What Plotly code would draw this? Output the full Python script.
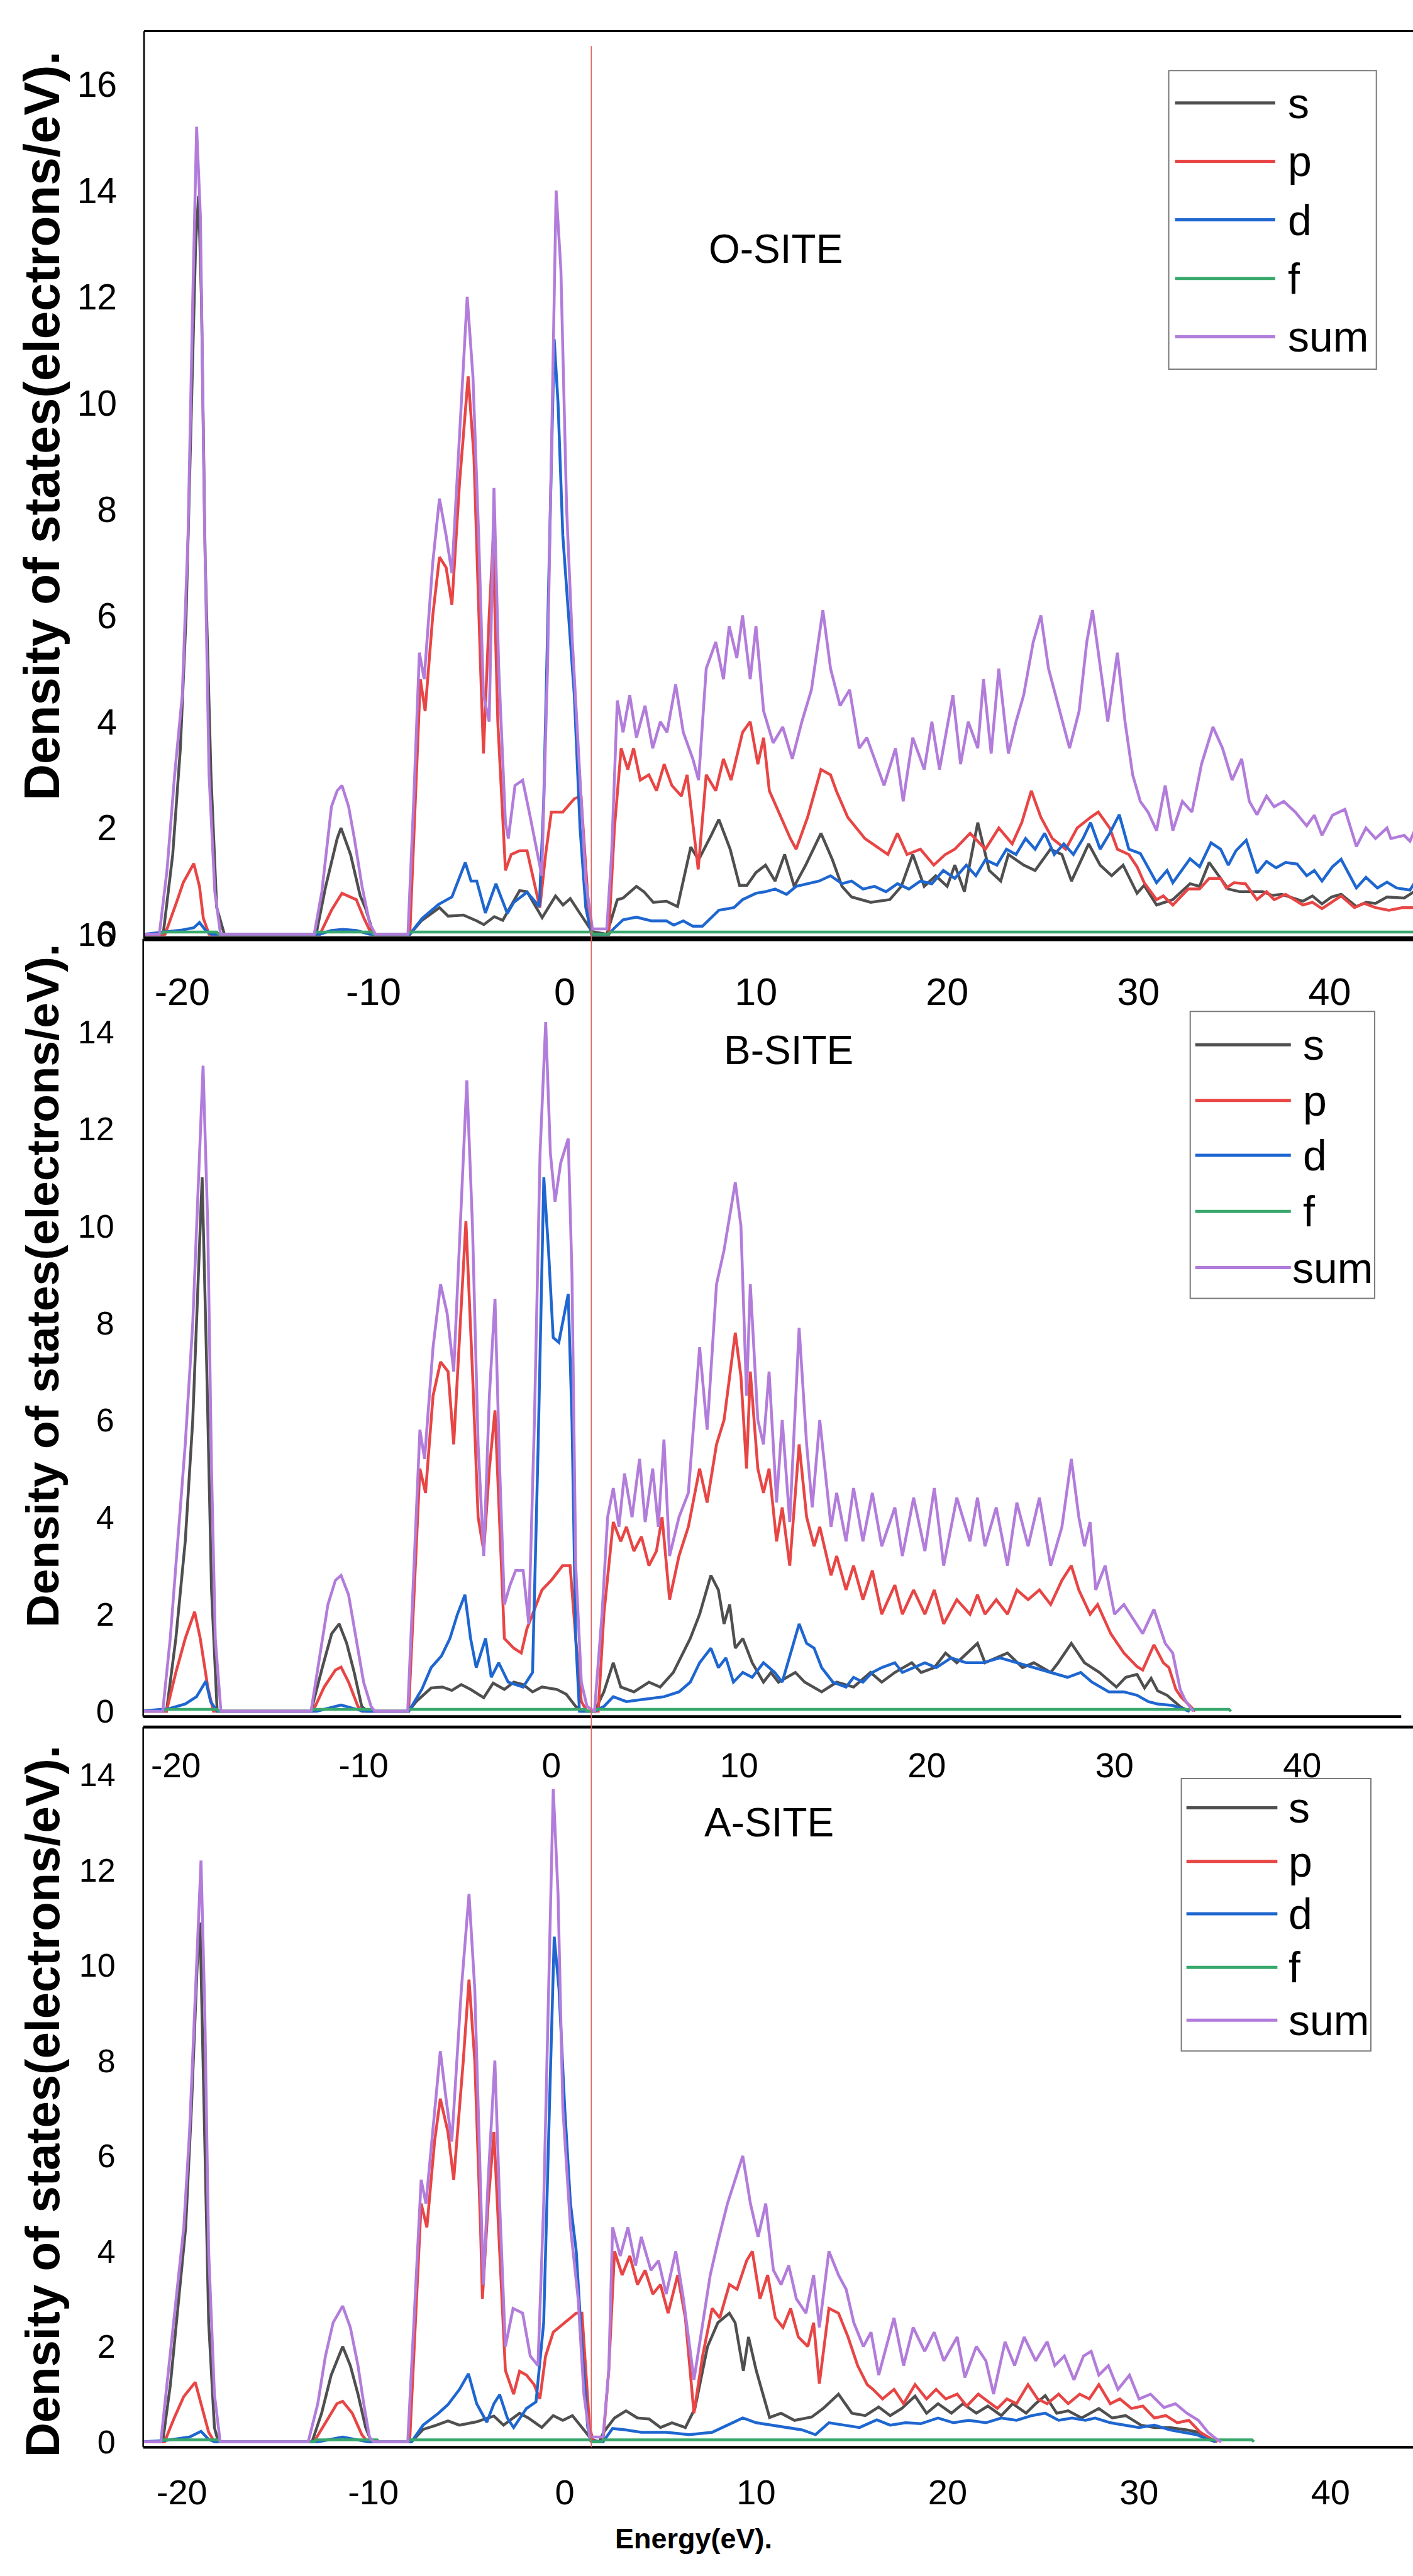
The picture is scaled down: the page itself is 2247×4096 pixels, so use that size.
import plotly.graph_objects as go

# ------------------------------------------------------------------
# Partial density of states for the O, B and A sites (s, p, d, f, sum)
# ------------------------------------------------------------------

# ---------------- O-SITE ----------------
o_s_e = [-22, -21.0, -20.5, -20.1, -19.8, -19.5, -19.3, -19.15, -19.0, -18.8, -18.5, -18.2, -17.8,
         -13.0, -12.5, -12.2, -11.9, -11.7, -11.2, -10.7, -10.4, -10.0,
         -8.1, -7.5, -6.55, -6.1, -5.3, -4.6, -4.23, -3.68, -3.24, -2.36, -1.97, -1.18, -0.48, -0.09, 0.29, 0.78, 1.43,
         2.2, 2.75, 3.05, 3.75, 4.14, 4.63, 5.32, 5.9, 6.59, 7.0, 7.67, 8.06, 8.65, 9.14, 9.53, 10.0, 10.5, 11.0,
         11.5, 12.0, 12.6, 13.4, 14.0, 14.5, 15.0, 16.0, 17.0, 17.6, 18.2, 18.8, 19.4, 20.0, 20.4, 20.9, 21.6,
         22.2, 22.8, 23.2, 24.0, 24.6, 25.4, 26.0, 26.5, 27.4, 28.0, 28.6, 29.2, 29.93, 30.3, 30.95, 31.8, 32.7,
         33.2, 33.7, 34.2, 34.7, 35.3, 36.5, 37.0, 37.5, 38.6, 39.1, 39.6, 40.1, 40.6, 41.4, 41.9, 42.4, 43.0,
         43.9, 44.5]
o_s_v = [0, 0, 1.5, 3.5, 6.0, 10.0, 13.0, 13.9, 12.0, 7.0, 3.0, 0.5, 0,
         0, 0.9, 1.35, 1.8, 2.0, 1.5, 0.73, 0.47, 0,
         0, 0.25, 0.5, 0.34, 0.36, 0.25, 0.18, 0.33, 0.26, 0.82, 0.8, 0.31, 0.72, 0.55, 0.67, 0.4, 0.05,
         0, 0.65, 0.68, 0.9, 0.8, 0.6, 0.62, 0.52, 1.64, 1.4, 1.87, 2.16, 1.6, 0.92, 0.92, 1.16, 1.3, 1.0,
         1.5, 0.9, 1.3, 1.9, 1.4, 0.9, 0.7, 0.6, 0.65, 0.9, 1.5, 0.9, 1.1, 0.9, 1.3, 0.8, 2.1,
         1.2, 1.0, 1.5, 1.3, 1.2, 1.6, 1.5, 1.0, 1.7, 1.3, 1.1, 1.3, 0.77, 0.92, 0.55, 0.65, 0.95,
         0.9, 1.35, 1.1, 0.85, 0.8, 0.8, 0.73, 0.75, 0.62, 0.72, 0.57, 0.7, 0.75, 0.52, 0.6, 0.58, 0.7,
         0.68, 0.82]

o_p_e = [-22, -20.9, -20.3, -19.95, -19.4, -19.1, -18.9, -18.6,
         -12.8, -12.2, -11.65, -10.9, -10.5, -10.1,
         -8.1, -7.8, -7.55, -7.3, -6.9, -6.55, -6.2, -5.9, -5.5, -5.05, -4.75, -4.4, -4.25, -3.95, -3.75, -3.5,
         -3.1, -2.8, -2.36, -1.97, -1.6, -1.3, -1.0, -0.7, -0.1, 0.5, 0.85, 1.05, 1.3, 1.45,
         2.3, 2.6, 2.95, 3.3, 3.6, 3.95, 4.4, 4.8, 5.2, 5.6, 6.1, 6.4, 6.98, 7.4, 7.9, 8.3, 8.7, 9.3, 9.7, 10.1,
         10.4, 10.7, 11.2, 11.8, 12.1, 12.7, 13.4, 13.9, 14.2, 14.8, 15.7, 16.9, 17.4, 17.9, 18.6, 19.3, 19.9,
         20.4, 21.2, 22.0, 22.7, 23.4, 23.9, 24.4, 24.9, 25.5, 26.2, 26.8, 27.5, 27.9, 28.5, 28.9, 29.5, 29.93,
         30.3, 30.95, 31.3, 31.8, 32.6, 33.2, 33.7, 34.3, 34.6, 35.0, 35.6, 36.2, 36.7, 37.1, 37.7, 38.6, 39.1,
         39.6, 40.6, 41.3, 41.8, 42.4, 43.1, 43.8, 44.5]
o_p_v = [0, 0, 0.6, 0.97, 1.33, 0.9, 0.3, 0,
         0, 0.45, 0.77, 0.65, 0.3, 0,
         0, 2.5, 4.8, 4.2, 6.0, 7.1, 6.9, 6.2, 8.5, 10.5, 9.0, 5.0, 3.4, 6.0, 7.4, 4.0,
         1.2, 1.5, 1.57, 1.57, 1.0, 0.5, 1.5, 2.3, 2.3, 2.55, 2.6, 1.5, 0.2, 0,
         0, 2.0, 3.5, 3.1, 3.5, 2.9, 3.0, 2.7, 3.2, 2.8, 2.6, 3.0, 1.22, 3.0, 2.7, 3.3, 2.9, 3.8, 4.0, 3.2,
         3.7, 2.7, 2.3, 1.8, 1.6, 2.2, 3.1, 3.0, 2.7, 2.2, 1.8, 1.5, 1.9, 1.5, 1.6, 1.3, 1.5,
         1.6, 1.9, 1.6, 2.0, 1.7, 2.1, 2.7, 2.2, 1.8, 1.6, 2.0, 2.2, 2.3, 2.0, 1.6, 1.5, 1.27,
         0.97, 0.65, 0.72, 0.55, 0.85, 0.85, 1.05, 1.05, 0.87, 0.97, 0.95, 0.65, 0.8, 0.65, 0.75, 0.55, 0.6,
         0.48, 0.72, 0.5, 0.58, 0.5, 0.45, 0.5, 0.5]

o_d_e = [-22, -20.8, -20.0, -19.4, -19.1, -18.8, -18.5,
         -12.8, -12.2, -11.6, -10.9, -10.2,
         -8.1, -7.45, -6.6, -5.9, -5.2, -4.9, -4.6, -4.15, -3.6, -3.0, -2.66, -1.97, -1.33, -1.1, -0.8, -0.55,
         -0.35, -0.1, 0.2, 0.5, 0.8, 1.1, 1.4,
         2.3, 2.55, 3.05, 3.75, 4.53, 5.32, 5.7, 6.2, 6.7, 7.2, 8.06, 8.85, 9.3, 10.0, 10.5, 11.0, 11.6, 12.1,
         12.7, 13.3, 13.9, 14.5, 15.0, 15.6, 16.2, 16.8, 17.4, 18.0, 18.6, 19.2, 19.8, 20.4, 21.0, 21.5, 22.0,
         22.6, 23.1, 23.6, 24.1, 24.6, 25.1, 25.6, 26.1, 26.6, 27.1, 27.5, 28.0, 28.5, 29.0, 29.5, 30.1, 30.95,
         31.5, 31.8, 32.7, 33.2, 33.8, 34.3, 34.7, 35.1, 35.64, 36.2, 36.7, 37.2, 37.7, 38.3, 38.8, 39.2, 39.6,
         40.15, 40.6, 41.4, 41.9, 42.5, 43.0, 43.5, 44.2, 44.5]
o_d_v = [0, 0.04, 0.08, 0.12, 0.22, 0.08, 0,
         0, 0.07, 0.09, 0.07, 0,
         0, 0.3, 0.56, 0.7, 1.35, 1.0, 1.0, 0.4, 0.95, 0.39, 0.6, 0.79, 0.52, 2.5, 7.5, 11.2,
         10.0, 7.5, 6.0, 4.5, 2.0, 0.5, 0,
         0, 0.1, 0.27, 0.32, 0.25, 0.25, 0.17, 0.25, 0.15, 0.15, 0.45, 0.5, 0.65, 0.77, 0.8, 0.85, 0.75, 0.9,
         0.95, 1.0, 1.1, 0.95, 1.0, 0.85, 0.9, 0.8, 0.95, 0.85, 1.0, 0.95, 1.2, 1.05, 1.3, 1.1, 1.4,
         1.3, 1.6, 1.5, 1.8, 1.6, 1.9, 1.5, 1.7, 1.5, 1.8, 2.1, 1.6, 1.9, 2.25, 1.6, 1.52, 0.97,
         1.2, 0.97, 1.42, 1.27, 1.72, 1.6, 1.3, 1.57, 1.77, 1.15, 1.37, 1.25, 1.35, 1.32, 1.1, 1.2, 1.0,
         1.27, 1.41, 0.87, 1.07, 0.87, 0.98, 0.87, 0.83, 1.0]

o_f_e = [-21.1, -21.0, -18.2, -18.1, -13.1, -13.0, -10.1, -10.0, -8.2, -8.1, 1.4, 1.5, 2.3, 2.4, 44.5]
o_f_v = [0, 0.04, 0.04, 0, 0, 0.04, 0.04, 0, 0, 0.04, 0.04, 0, 0, 0.04, 0.04]

o_sum_e = [-22, -21.2, -20.8, -20.4, -20.0, -19.7, -19.45, -19.25, -19.05, -18.85, -18.6, -18.3, -18.0,
           -13.1, -12.7, -12.4, -12.2, -11.9, -11.65, -11.3, -11.0, -10.6, -10.2, -9.9,
           -8.2, -7.9, -7.6, -7.35, -6.9, -6.55, -6.2, -5.9, -5.5, -5.1, -4.8, -4.5, -4.25, -3.95, -3.7, -3.45,
           -3.1, -2.95, -2.6, -2.2, -1.8, -1.2, -0.9, -0.6, -0.45, -0.2, 0.1, 0.4, 0.8, 1.1, 1.45, 2.2,
           2.45, 2.75, 3.05, 3.4, 3.75, 4.2, 4.6, 5.0, 5.35, 5.8, 6.2, 6.7, 7.0, 7.4, 7.9, 8.3, 8.6, 9.0, 9.3,
           9.7, 10.0, 10.4, 10.9, 11.4, 11.9, 12.4, 12.9, 13.5, 13.9, 14.4, 14.9, 15.4, 15.8, 16.3, 16.7, 17.3,
           17.7, 18.2, 18.8, 19.2, 19.6, 20.3, 20.7, 21.1, 21.6, 21.9, 22.3, 22.7, 23.2, 23.6, 24.0, 24.5, 24.9,
           25.3, 25.9, 26.4, 26.9, 27.3, 27.6, 28.0, 28.4, 28.9, 29.3, 29.7, 30.1, 30.5, 30.95, 31.4, 31.8, 32.3,
           32.8, 33.3, 33.9, 34.4, 34.9, 35.4, 35.8, 36.2, 36.7, 37.1, 37.6, 38.2, 38.8, 39.2, 39.6, 40.15, 40.8,
           41.4, 41.9, 42.4, 43.0, 43.2, 43.9, 44.2, 44.5]
o_sum_v = [0, 0, 1.2, 3.0, 4.5, 7.5, 12.0, 15.2, 13.5, 8.0, 3.0, 0.8, 0,
           0, 0.8, 1.7, 2.4, 2.7, 2.8, 2.4, 1.8, 0.9, 0.2, 0,
           0, 2.5, 5.3, 4.8, 7.0, 8.2, 7.5, 6.8, 9.5, 12.0, 10.5, 7.5, 4.5, 4.0, 8.4, 5.0,
           2.1, 1.8, 2.8, 2.9, 2.2, 1.1, 5.0, 11.0, 14.0, 12.5, 8.0, 5.5, 3.0, 1.0, 0.1, 0.1,
           1.5, 4.4, 3.8, 4.5, 3.7, 4.3, 3.5, 4.0, 3.8, 4.7, 3.8, 3.3, 2.9, 5.0, 5.5, 4.8, 5.8, 5.2, 6.0,
           4.8, 5.8, 4.2, 3.6, 3.9, 3.3, 4.0, 4.6, 6.1, 5.0, 4.3, 4.6, 3.5, 3.7, 3.2, 2.8, 3.5,
           2.5, 3.7, 3.1, 4.0, 3.1, 4.5, 3.2, 4.0, 3.5, 4.8, 3.4, 5.0, 3.4, 4.0, 4.5, 5.5, 6.0,
           5.0, 4.2, 3.5, 4.2, 5.5, 6.1, 5.0, 4.0, 5.3, 4.0, 3.0, 2.5, 2.3, 1.95, 2.8, 1.95, 2.5,
           2.3, 3.2, 3.9, 3.5, 2.9, 3.3, 2.5, 2.25, 2.6, 2.4, 2.5, 2.3, 2.04, 2.24, 1.86, 2.24, 2.35,
           1.65, 2.0, 1.8, 2.0, 1.8, 1.86, 1.75, 2.0]

# ---------------- B-SITE ----------------
b_s_e = [-22, -20.5, -20.0, -19.5, -19.1, -18.8, -18.6, -18.35, -18.1, -17.8,
         -12.8, -12.2, -11.7, -11.3, -10.9, -10.5, -10.1, -9.8,
         -7.6, -7.2, -6.4, -5.8, -5.3, -4.8, -4.3, -3.6, -3.1, -2.5, -2.0, -1.5, -1.0, -0.5, 0.3, 0.8, 1.3, 1.6,
         2.3, 2.8, 3.3, 3.7, 4.4, 5.2, 5.8, 6.5, 7.4, 7.9, 8.5, 8.9, 9.2, 9.5, 9.8, 10.2, 10.7, 11.3, 11.7,
         12.1, 13.0, 13.5, 14.4, 15.2, 16.1, 17.0, 17.6, 18.3, 19.2, 19.7, 20.4, 21.0, 21.6, 22.7, 23.1, 24.3,
         25.1, 25.7, 26.6, 27.0, 27.7, 28.4, 29.2, 30.1, 30.6, 31.2, 31.6, 31.95, 32.3, 32.8, 33.2, 33.55, 34.0]
b_s_v = [0, 0, 1.5, 3.5, 6.0, 9.0, 11.0, 7.0, 2.5, 0,
         0, 0.9, 1.6, 1.8, 1.4, 0.8, 0.1, 0,
         0, 0.2, 0.48, 0.5, 0.43, 0.55, 0.45, 0.28, 0.58, 0.45, 0.6, 0.55, 0.4, 0.5, 0.45, 0.35, 0.1, 0,
         0, 0.4, 1.0, 0.5, 0.4, 0.6, 0.5, 0.8, 1.5, 2.0, 2.8, 2.5, 1.8, 2.2, 1.3, 1.5, 1.0, 0.6, 0.8,
         0.6, 0.8, 0.6, 0.4, 0.6, 0.5, 0.8, 0.6, 0.8, 1.0, 0.8, 0.9, 1.2, 1.0, 1.4, 1.0, 1.2,
         0.9, 1.0, 0.8, 1.0, 1.4, 1.0, 0.8, 0.5, 0.7, 0.76, 0.48, 0.68, 0.42, 0.33, 0.2, 0.08, 0]

b_p_e = [-22, -20.5, -20.0, -19.5, -19.0, -18.7, -18.3, -18.0,
         -12.7, -12.1, -11.5, -11.2, -10.8, -10.3, -10.1,
         -7.6, -7.3, -7.0, -6.7, -6.3, -5.9, -5.5, -5.2, -4.8, -4.55, -4.2, -3.9, -3.6, -3.3, -3.0, -2.7, -2.5,
         -2.0, -1.6, -1.3, -1.0, -0.5, 0.0, 0.6, 1.0, 1.3, 1.6, 1.9,
         2.5, 2.8, 3.3, 3.7, 4.0, 4.4, 4.8, 5.2, 5.6, 5.9, 6.3, 6.8, 7.3, 7.9, 8.3, 8.8, 9.2, 9.8, 10.1, 10.4,
         10.6, 11.0, 11.3, 11.6, 12.0, 12.3, 12.7, 13.2, 13.6, 14.0, 14.3, 14.9, 15.2, 15.7, 16.1, 16.6, 17.1,
         17.6, 18.3, 18.7, 19.3, 19.9, 20.4, 20.9, 21.6, 22.3, 22.7, 23.1, 23.7, 24.3, 24.8, 25.4, 26.0, 26.6,
         27.2, 27.7, 28.1, 28.7, 29.1, 29.8, 30.5, 31.2, 31.5, 32.1, 32.6, 32.9, 33.27, 33.55, 34.0, 34.3]
b_p_v = [0, 0, 0.8, 1.5, 2.05, 1.5, 0.5, 0,
         0, 0.5, 0.85, 0.91, 0.6, 0.1, 0,
         0, 2.5, 5.0, 4.5, 6.5, 7.2, 7.0, 5.5, 8.5, 10.1, 7.0, 4.0, 3.3, 5.0, 6.2, 3.5, 1.5,
         1.3, 1.2, 1.7, 2.0, 2.5, 2.7, 3.0, 3.0, 1.5, 0.2, 0,
         0, 2.0, 3.9, 3.5, 3.8, 3.3, 3.6, 3.0, 3.3, 4.0, 2.3, 3.2, 3.8, 5.0, 4.3, 5.5, 6.0, 7.8, 6.9, 5.0,
         7.0, 5.0, 4.5, 5.0, 3.5, 4.2, 3.0, 5.5, 4.0, 3.4, 3.8, 2.8, 3.2, 2.5, 3.0, 2.3, 2.9,
         2.0, 2.6, 2.0, 2.5, 2.0, 2.5, 1.8, 2.3, 2.0, 2.4, 2.0, 2.3, 2.0, 2.5, 2.3, 2.5, 2.2,
         2.7, 3.0, 2.5, 2.0, 2.2, 1.6, 1.2, 0.92, 0.85, 1.37, 1.0, 0.9, 0.45, 0.29, 0.12, 0]

b_d_e = [-22, -20.4, -19.5, -18.9, -18.4, -18.15, -17.8,
         -12.5, -11.2, -10.0,
         -7.6, -6.9, -6.4, -5.85, -5.4, -5.0, -4.6, -4.3, -4.0, -3.5, -3.2, -2.8, -2.3, -1.5, -1.0, -0.7, -0.4,
         -0.15, 0.1, 0.4, 0.9, 1.1, 1.3, 1.5,
         2.3, 2.8, 3.3, 4.0, 5.0, 6.0, 6.8, 7.4, 7.9, 8.5, 8.9, 9.3, 9.7, 10.2, 10.7, 11.3, 11.9, 12.3, 12.9,
         13.2, 13.6, 14.0, 14.4, 15.0, 15.7, 16.1, 16.6, 17.1, 17.6, 18.3, 18.7, 19.3, 19.9, 20.5, 21.3, 22.1,
         23.0, 23.9, 24.8, 25.7, 26.6, 27.5, 28.2, 28.8, 29.7, 30.5, 31.2, 31.8, 32.3, 33.1, 33.6, 34.0]
b_d_v = [0, 0.05, 0.15, 0.3, 0.62, 0.2, 0,
         0, 0.13, 0,
         0, 0.45, 0.9, 1.14, 1.5, 2.0, 2.4, 1.5, 0.9, 1.5, 0.7, 1.0, 0.6, 0.5, 0.8, 5.5, 11.0,
         9.5, 7.7, 7.6, 8.6, 6.0, 1.5, 0,
         0, 0.1, 0.3, 0.2, 0.25, 0.3, 0.4, 0.6, 1.0, 1.3, 0.9, 1.1, 0.6, 0.8, 0.7, 1.0, 0.8, 0.6, 1.4,
         1.8, 1.4, 1.3, 0.9, 0.6, 0.5, 0.7, 0.6, 0.8, 0.9, 1.0, 0.8, 0.9, 1.0, 0.9, 1.1, 1.0,
         1.0, 1.1, 1.0, 0.9, 0.8, 0.7, 0.8, 0.6, 0.4, 0.4, 0.33, 0.2, 0.15, 0.12, 0.05, 0]

b_f_e = [-20.6, -20.5, -17.8, -17.7, -12.8, -12.7, -9.5, -9.4, -7.7, -7.6, 1.8, 1.9, 2.3, 2.4, 36.1, 36.2]
b_f_v = [0, 0.04, 0.04, 0, 0, 0.04, 0.04, 0, 0, 0.04, 0.04, 0, 0, 0.04, 0.04, 0]

b_sum_e = [-22, -20.7, -20.3, -19.9, -19.5, -19.1, -18.8, -18.55, -18.3, -18.1, -17.9, -17.6,
           -12.8, -12.3, -11.9, -11.5, -11.2, -10.8, -10.4, -10.0, -9.6, -9.4,
           -7.65, -7.3, -7.0, -6.75, -6.3, -5.9, -5.55, -5.2, -4.8, -4.5, -4.2, -3.9, -3.6, -3.3, -3.0, -2.75,
           -2.5, -2.2, -1.9, -1.5, -1.2, -0.9, -0.6, -0.3, -0.05, 0.2, 0.5, 0.9, 1.1, 1.3, 1.6, 1.9, 2.3,
           2.7, 3.0, 3.3, 3.6, 3.9, 4.3, 4.7, 5.0, 5.4, 5.7, 6.0, 6.3, 6.8, 7.3, 7.9, 8.3, 8.8, 9.2, 9.8, 10.1,
           10.4, 10.6, 11.0, 11.3, 11.6, 12.0, 12.3, 12.7, 13.2, 13.6, 13.9, 14.3, 14.9, 15.2, 15.7, 16.1, 16.6,
           17.1, 17.6, 18.3, 18.7, 19.3, 19.9, 20.4, 20.9, 21.6, 22.3, 22.7, 23.1, 23.7, 24.3, 24.8, 25.4, 26.0,
           26.6, 27.2, 27.7, 28.1, 28.4, 28.7, 29.0, 29.5, 30.0, 30.5, 31.0, 31.5, 32.1, 32.7, 33.1, 33.5, 33.8,
           34.2]
b_sum_v = [0, 0, 1.5, 3.5, 5.5, 8.0, 11.0, 13.3, 10.0, 5.0, 1.5, 0,
           0, 1.2, 2.2, 2.7, 2.8, 2.4, 1.5, 0.6, 0.1, 0,
           0, 3.0, 5.8, 5.2, 7.5, 8.8, 8.2, 7.0, 10.5, 13.0, 10.0, 5.5, 3.2, 6.5, 8.5, 5.0,
           2.2, 2.6, 2.9, 2.9, 1.8, 6.0, 11.5, 14.2, 11.5, 10.5, 11.3, 11.8, 9.0, 3.0, 0.6, 0.1, 0,
           2.0, 4.0, 4.6, 3.8, 4.9, 4.0, 5.2, 3.9, 5.0, 3.8, 5.6, 3.2, 4.0, 4.5, 7.5, 5.8, 8.8, 9.5, 10.9, 10.0,
           6.5, 8.8, 6.0, 5.5, 7.0, 4.3, 6.0, 3.9, 7.9, 5.5, 4.2, 6.0, 3.8, 4.5, 3.5, 4.6, 3.5,
           4.5, 3.4, 4.2, 3.2, 4.4, 3.3, 4.6, 3.0, 4.4, 3.5, 4.4, 3.4, 4.2, 3.0, 4.3, 3.4, 4.4,
           3.0, 3.8, 5.2, 4.0, 3.4, 3.9, 2.5, 3.0, 2.0, 2.2, 1.9, 1.6, 2.1, 1.4, 1.2, 0.45, 0.2,
           0]

# ---------------- A-SITE ----------------
a_s_e = [-22, -21.0, -20.6, -20.2, -19.8, -19.5, -19.2, -19.05, -18.85, -18.6, -18.3, -18.1,
         -13.2, -12.7, -12.2, -11.6, -11.2, -10.8, -10.4, -10.1,
         -8.0, -7.4, -6.7, -6.1, -5.5, -4.6, -3.7, -3.2, -2.36, -1.9, -1.2, -0.6, -0.1, 0.4, 0.9, 1.4,
         1.8, 2.03, 2.6, 3.2, 3.8, 4.4, 5.0, 5.6, 6.3, 6.8, 7.46, 8.0, 8.6, 8.9, 9.33, 9.6, 10.0, 10.7, 11.3,
         12.0, 12.9, 13.5, 14.3, 15.0, 15.7, 16.4, 17.0, 17.6, 18.3, 18.9, 19.5, 20.2, 20.8, 21.5, 22.1, 22.8,
         23.4, 24.1, 24.6, 25.1, 25.7, 26.3, 27.0, 27.9, 28.6, 29.3, 30.1, 30.8, 31.6, 32.5, 33.1, 33.6, 34.0]
a_s_v = [0, 0, 1.2, 2.8, 4.5, 7.0, 10.0, 10.9, 7.0, 2.5, 0.3, 0,
         0, 0.6, 1.4, 2.0, 1.6, 1.0, 0.3, 0,
         0, 0.26, 0.35, 0.44, 0.35, 0.42, 0.54, 0.35, 0.6, 0.5, 0.3, 0.55, 0.45, 0.55, 0.3, 0.05,
         0, 0.2, 0.5, 0.65, 0.5, 0.48, 0.3, 0.4, 0.3, 0.7, 2.0, 2.5, 2.7, 2.5, 1.49, 2.2, 1.5, 0.51, 0.6,
         0.45, 0.52, 0.7, 1.0, 0.6, 0.55, 0.73, 0.55, 0.7, 0.96, 0.6, 0.8, 0.6, 0.8, 0.6, 0.75, 0.55,
         0.8, 0.6, 0.8, 0.97, 0.6, 0.65, 0.5, 0.7, 0.5, 0.55, 0.35, 0.3, 0.3, 0.25, 0.2, 0.1, 0]

a_p_e = [-22, -20.9, -20.4, -19.9, -19.3, -19.0, -18.6, -18.3,
         -13.1, -12.5, -11.9, -11.6, -11.1, -10.6, -10.3,
         -8.1, -7.8, -7.5, -7.2, -6.8, -6.5, -6.1, -5.8, -5.3, -5.0, -4.7, -4.4, -4.3, -4.0, -3.7, -3.4, -3.1,
         -2.67, -2.36, -2.0, -1.6, -1.3, -1.0, -0.6, 0.0, 0.6, 0.9, 1.1, 1.3, 1.5,
         2.0, 2.3, 2.6, 3.0, 3.4, 3.8, 4.2, 4.6, 5.0, 5.4, 5.9, 6.3, 6.75, 7.2, 7.7, 8.1, 8.6, 9.0, 9.5, 9.8,
         10.2, 10.6, 11.0, 11.4, 11.8, 12.2, 12.7, 13.0, 13.3, 13.8, 14.3, 14.8, 15.3, 15.8, 16.1, 16.6, 17.2,
         17.7, 18.3, 18.9, 19.4, 19.9, 20.5, 21.0, 21.6, 22.1, 22.6, 23.1, 23.6, 24.2, 24.7, 25.2, 25.8, 26.3,
         26.9, 27.4, 27.9, 28.5, 29.0, 29.6, 30.2, 30.8, 31.4, 32.0, 32.6, 33.2, 33.8, 34.1]
a_p_v = [0, 0, 0.5, 0.95, 1.25, 0.8, 0.2, 0,
         0, 0.4, 0.8, 0.85, 0.6, 0.15, 0,
         0, 2.5, 5.0, 4.5, 6.3, 7.2, 6.5, 5.5, 8.0, 9.7, 8.0, 4.5, 3.0, 5.0, 6.5, 4.0, 1.5,
         1.0, 1.48, 1.4, 1.2, 0.9, 1.8, 2.3, 2.5, 2.7, 2.7, 1.5, 0.3, 0,
         0, 1.5, 4.0, 3.5, 3.9, 3.3, 3.6, 3.1, 3.3, 2.7, 3.5, 2.6, 0.6, 1.8, 2.8, 2.6, 3.3, 3.2, 3.8, 4.0,
         3.0, 3.5, 2.6, 2.4, 2.8, 2.2, 2.0, 2.5, 1.22, 2.8, 2.7, 2.2, 1.6, 1.2, 1.1, 0.9, 1.1,
         0.8, 1.2, 0.9, 1.1, 0.9, 1.0, 0.75, 1.0, 0.85, 0.7, 0.9, 0.8, 1.2, 0.9, 0.8, 1.0, 0.8,
         1.0, 0.9, 1.2, 0.8, 0.9, 0.7, 0.75, 0.5, 0.55, 0.4, 0.45, 0.2, 0.05, 0]

a_d_e = [-22, -20.8, -19.6, -19.0, -18.6, -18.3,
         -12.9, -11.6, -10.3,
         -8.0, -7.4, -6.6, -6.1, -5.5, -5.03, -4.6, -4.07, -3.7, -3.4, -3.0, -2.67, -2.0, -1.5, -1.1, -0.8,
         -0.55, -0.3, 0.0, 0.3, 0.6, 0.9, 1.2, 1.4,
         2.0, 2.5, 3.2, 4.0, 5.3, 6.5, 7.7, 8.5, 9.3, 10.0, 10.8, 11.6, 12.4, 13.1, 13.8, 14.6, 15.4, 16.3,
         17.0, 17.8, 18.6, 19.5, 20.3, 21.1, 22.0, 22.8, 23.6, 24.4, 25.1, 25.8, 26.5, 27.2, 27.7, 28.5, 29.3,
         30.0, 30.8, 31.6, 32.3, 33.0, 33.6, 34.0]
a_d_v = [0, 0.03, 0.1, 0.22, 0.05, 0,
         0, 0.1, 0,
         0, 0.35, 0.6, 0.78, 1.1, 1.43, 0.8, 0.41, 0.8, 0.99, 0.5, 0.3, 0.7, 0.84, 2.5, 7.0,
         10.6, 9.5, 7.0, 5.0, 4.0, 2.0, 0.3, 0,
         0, 0.28, 0.25, 0.2, 0.2, 0.15, 0.2, 0.35, 0.5, 0.4, 0.35, 0.3, 0.25, 0.15, 0.4, 0.35, 0.3, 0.46,
         0.35, 0.4, 0.38, 0.5, 0.4, 0.45, 0.4, 0.5, 0.45, 0.55, 0.6, 0.45, 0.5, 0.45, 0.5, 0.4, 0.35,
         0.3, 0.35, 0.25, 0.2, 0.15, 0.05, 0]

a_f_e = [-21.1, -21.0, -18.1, -18.0, -13.1, -13.0, -9.8, -9.7, -8.2, -8.1, 1.3, 1.4, 1.9, 2.0, 35.9, 36.0]
a_f_v = [0, 0.04, 0.04, 0, 0, 0.04, 0.04, 0, 0, 0.04, 0.04, 0, 0, 0.04, 0.04, 0]

a_sum_e = [-22, -21.1, -20.7, -20.3, -19.9, -19.6, -19.3, -19.0, -18.8, -18.6, -18.3, -18.0,
           -13.4, -12.9, -12.5, -12.1, -11.6, -11.2, -10.8, -10.5, -10.2, -10.0,
           -8.2, -7.8, -7.5, -7.25, -6.8, -6.5, -6.2, -5.9, -5.4, -5.0, -4.7, -4.45, -4.25, -4.0, -3.65, -3.4,
           -3.1, -2.7, -2.2, -1.8, -1.4, -1.1, -0.8, -0.6, -0.35, -0.1, 0.3, 0.7, 1.0, 1.3, 2.0,
           2.3, 2.5, 2.9, 3.3, 3.7, 4.0, 4.5, 4.9, 5.3, 5.8, 6.2, 6.75, 7.2, 7.6, 8.0, 8.5, 8.9, 9.3, 9.7, 10.1,
           10.5, 10.9, 11.3, 11.7, 12.1, 12.6, 13.0, 13.3, 13.8, 14.3, 14.7, 15.1, 15.6, 16.0, 16.4, 17.2, 17.7,
           18.2, 18.8, 19.3, 19.8, 20.5, 20.9, 21.5, 22.0, 22.4, 23.0, 23.5, 24.0, 24.6, 25.2, 25.6, 26.1, 26.6,
           27.1, 27.5, 27.9, 28.4, 28.9, 29.5, 30.0, 30.6, 31.3, 31.9, 32.5, 33.1, 33.6, 34.1, 34.3]
a_sum_v = [0, 0, 1.5, 3.0, 4.5, 6.5, 9.5, 12.2, 9.0, 4.0, 1.0, 0,
           0, 0.8, 1.8, 2.5, 2.85, 2.4, 1.6, 0.8, 0.1, 0,
           0, 3.0, 5.5, 5.0, 7.0, 8.2, 7.2, 6.3, 9.5, 11.5, 9.5, 6.0, 3.3, 5.5, 8.0, 5.0,
           2.0, 2.8, 2.7, 1.8, 1.6, 5.0, 10.0, 13.7, 11.5, 7.0, 4.5, 3.0, 1.0, 0.1, 0.1,
           1.5, 4.5, 3.9, 4.5, 3.7, 4.3, 3.6, 3.8, 3.1, 4.0, 3.0, 1.3, 2.5, 3.5, 4.2, 5.0, 5.5, 6.0, 5.0, 4.3,
           5.0, 3.6, 3.3, 3.7, 3.0, 2.7, 3.5, 2.4, 4.0, 3.5, 3.2, 2.5, 2.0, 2.3, 1.4, 2.6, 1.6,
           2.4, 1.9, 2.3, 1.7, 2.2, 1.35, 2.0, 1.7, 1.0, 2.1, 1.6, 2.2, 1.7, 2.1, 1.6, 1.8, 1.3,
           1.8, 1.9, 1.4, 1.6, 1.1, 1.4, 0.9, 1.0, 0.72, 0.8, 0.6, 0.45, 0.2, 0.04, 0]

x_ticks = [-20, -10, 0, 10, 20, 30, 40]
x_tick_text = ["-20", "-10", "0", "10", "20", "30", "40"]
orbitals = ["s", "p", "d", "f", "sum"]
panel_titles = ["O-SITE", "B-SITE", "A-SITE"]
y_title = "Density of states(electrons/eV)."
x_title = "Energy(eV)."

colors = {"s": "#4f4f4f", "p": "#e84545", "d": "#1e66d0", "f": "#38a86c", "sum": "#b27cdb"}

panels = [
    {"s": (o_s_e, o_s_v), "p": (o_p_e, o_p_v), "d": (o_d_e, o_d_v), "f": (o_f_e, o_f_v), "sum": (o_sum_e, o_sum_v)},
    {"s": (b_s_e, b_s_v), "p": (b_p_e, b_p_v), "d": (b_d_e, b_d_v), "f": (b_f_e, b_f_v), "sum": (b_sum_e, b_sum_v)},
    {"s": (a_s_e, a_s_v), "p": (a_p_e, a_p_v), "d": (a_d_e, a_d_v), "f": (a_f_e, a_f_v), "sum": (a_sum_e, a_sum_v)},
]

# ---------------- layout geometry on a 3355 x 6117 design grid ----------------
RW, RH = 3355.0, 6117.0
W, H = 2247, 4096


def fx(x):
    return x / RW


def fy(y):
    return 1 - y / RH


FONT = "Liberation Sans, Arial, sans-serif"

fig = go.Figure()

axis_names = [("x", "y"), ("x2", "y2"), ("x3", "y3")]
for (xa, ya), data in zip(axis_names, panels):
    for orb in orbitals:
        e, v = data[orb]
        fig.add_trace(go.Scatter(x=e, y=v, mode="lines", name=orb, xaxis=xa, yaxis=ya,
                                 line=dict(color=colors[orb], width=4.5), showlegend=False,
                                 hoverinfo="skip"))

# per panel: x domain, x range, y domain, y range, y ticks, tick-label sizes and standoffs
panel_geo = [
    dict(xdom=[fx(342), 1.0], xr=[-22.0, 44.36], ydom=[fy(2217), fy(34)], yr=[-0.086, 17.0],
         yt=list(range(0, 17, 2)), xsize=61, xstand=43, ysize=57, ystand=42),
    dict(xdom=[fx(340), 1.0], xr=[-21.74, 45.9], ydom=[fy(4088), fy(2205)], yr=[-0.111, 16.02],
         yt=list(range(0, 17, 2)), xsize=55, xstand=40, ysize=52, ystand=45),
    dict(xdom=[fx(340), 1.0], xr=[-22.02, 44.31], ydom=[fy(5845), fy(4113)], yr=[-0.113, 15.0],
         yt=list(range(0, 15, 2)), xsize=56, xstand=34, ysize=52, ystand=43),
]

layout_axes = {}
for i, g in enumerate(panel_geo):
    sfx = "" if i == 0 else str(i + 1)
    layout_axes["xaxis" + sfx] = dict(domain=g["xdom"], range=g["xr"], anchor="y" + sfx,
                                      tickvals=x_ticks, ticktext=x_tick_text, ticks="", showgrid=False,
                                      zeroline=False, showline=False,
                                      tickfont=dict(family=FONT, size=g["xsize"], color="black"),
                                      ticklabelstandoff=g["xstand"], fixedrange=True)
    layout_axes["yaxis" + sfx] = dict(domain=g["ydom"], range=g["yr"], anchor="x" + sfx,
                                      tickvals=g["yt"], ticks="", showgrid=False, zeroline=False,
                                      showline=False,
                                      tickfont=dict(family=FONT, size=g["ysize"], color="black"),
                                      ticklabelstandoff=g["ystand"], fixedrange=True)


def hline(x0, x1, y, width, color="black"):
    return dict(type="line", xref="paper", yref="paper", x0=fx(x0), x1=fx(x1), y0=fy(y), y1=fy(y),
                line=dict(color=color, width=width))


def vline(x, y0, y1, width, color="black"):
    return dict(type="line", xref="paper", yref="paper", x0=fx(x), x1=fx(x), y0=fy(y1), y1=fy(y0),
                line=dict(color=color, width=width))


shapes = [
    # frames
    hline(342, RW, 34, 3.2),
    vline(342, 34, 2217, 2.6),
    vline(340, 2217, 4088, 2.6),
    hline(340, RW, 4113, 4.6),
    vline(340, 4113, 5845, 2.6),
    # thick energy axes
    hline(342, RW, 2217, 7.7),
    hline(340, 3327, 4088, 4.8),
    hline(340, RW, 5845, 4.5),
]
# vertical marker line running through all three panels
marker = vline(1404, 70, 5845, 1.6, "#e06060")
marker["layer"] = "above"
shapes.append(marker)

annotations = []
# legend boxes: box x0, x1, y0, y1, sample x0, x1, label x per entry, entry rows
legend_geo = [
    (2775, 3268, 129, 847, 2790, 3028, [3055] * 5, [207, 347, 488, 629, 769]),
    (2826, 3264, 2392, 3082, 2838, 3065, [3091, 3091, 3091, 3091, 3066], [2472, 2606, 2738, 2873, 3008]),
    (2805, 3255, 4237, 4892, 2817, 3033, [3057] * 5, [4307, 4436, 4562, 4691, 4818]),
]
for bx0, bx1, by0, by1, lx0, lx1, txs, rows in legend_geo:
    shapes.append(dict(type="rect", xref="paper", yref="paper", x0=fx(bx0), x1=fx(bx1), y0=fy(by1), y1=fy(by0),
                       line=dict(color="#7a7a7a", width=2), fillcolor="white", layer="above"))
    for orb, tx, ry in zip(orbitals, txs, rows):
        sample = hline(lx0, lx1, ry, 5, colors[orb])
        sample["layer"] = "above"
        shapes.append(sample)
        annotations.append(dict(xref="paper", yref="paper", x=fx(tx), y=fy(ry), text=orb, showarrow=False,
                                xanchor="left", yanchor="middle",
                                font=dict(family=FONT, size=68, color="black")))

# site labels
for title, (cx, cy) in zip(panel_titles, [(1841, 558), (1873, 2485), (1826, 4342)]):
    annotations.append(dict(xref="paper", yref="paper", x=fx(cx), y=fy(cy), text=title, showarrow=False,
                            xanchor="center", yanchor="middle",
                            font=dict(family=FONT, size=64, color="black")))

# y-axis titles, one per panel
for (cy, size) in [(983, 80), (3051, 73), (5013, 76)]:
    annotations.append(dict(xref="paper", yref="paper", x=fx(100), y=fy(cy), text="<b>" + y_title + "</b>",
                            showarrow=False, textangle=-90, xanchor="center", yanchor="middle",
                            font=dict(family=FONT, size=size, color="black")))

# energy axis title
annotations.append(dict(xref="paper", yref="paper", x=fx(1647), y=fy(6065), text="<b>" + x_title + "</b>",
                        showarrow=False, xanchor="center", yanchor="middle",
                        font=dict(family=FONT, size=45, color="black")))

fig.update_layout(width=W, height=H, margin=dict(l=0, r=0, t=0, b=0),
                  paper_bgcolor="white", plot_bgcolor="rgba(0,0,0,0)", showlegend=False,
                  shapes=shapes, annotations=annotations, **layout_axes)

fig.write_html("out.html", post_script="document.body.style.margin='0';")
